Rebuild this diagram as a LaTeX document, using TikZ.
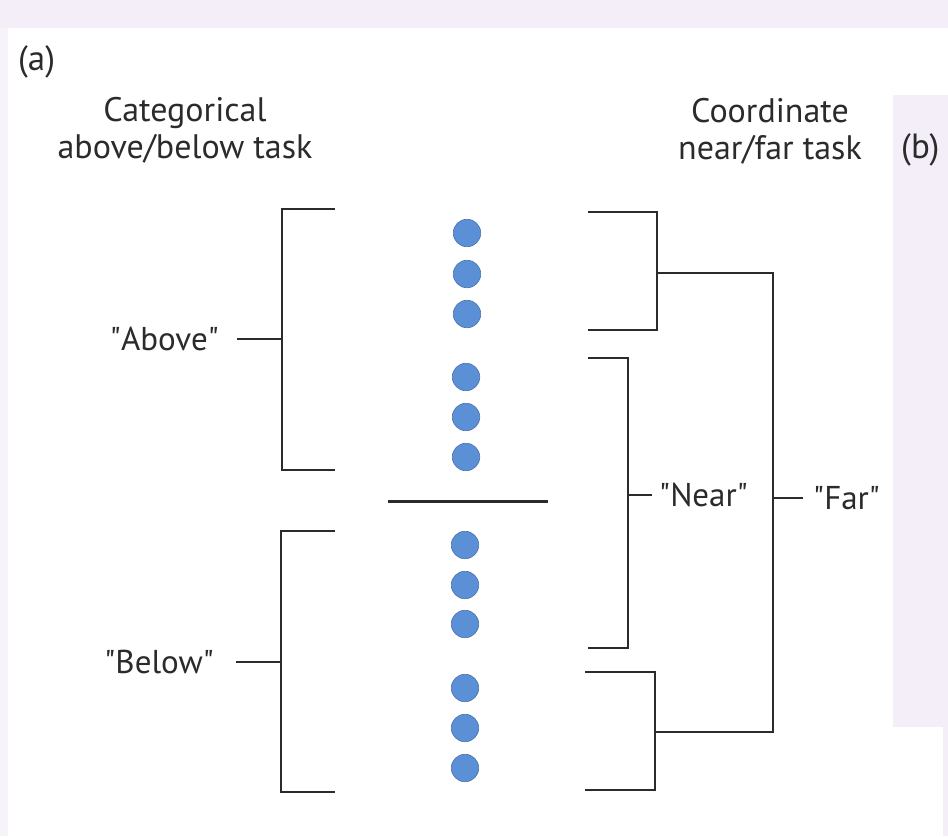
\documentclass[tikz,border=0pt]{standalone}
\usepackage{fontspec}
\setmainfont{PT Sans}
\definecolor{ink}{HTML}{2B2B2B}
\definecolor{lav}{HTML}{F4EEF8}
\definecolor{dotblue}{HTML}{5B8FD6}
\begin{document}
\begin{tikzpicture}[x=1pt,y=-1pt,
  bracket/.style={draw=ink,line width=2pt,line join=miter},
  dot/.style={circle,fill=dotblue,draw=dotblue!80!black,line width=0.6pt,minimum size=27.5pt,inner sep=0pt},
  head/.style={font=\fontsize{34}{37}\selectfont,text=ink,align=center,inner sep=0pt},
  lbl/.style={font=\fontsize{33}{38}\selectfont,text=ink,inner sep=0pt},
  panel/.style={font=\fontsize{35}{40}\selectfont,text=ink,inner sep=0pt}]
\useasboundingbox (0,0) rectangle (948,836);
\fill[white] (0,0) rectangle (948,836);
% paper margins
\fill[lav] (0,0) rectangle (948,28);
\fill[lav!70] (0,28) rectangle (8,836);
\fill[lav] (893,95) rectangle (948,727);
\fill[lav] (943,727) rectangle (948,836);

% panel letters and headings
\node[panel,anchor=west] (pa) at (18,62) {(a)};
\node[panel,anchor=west] (pb) at (901,150) {(b)};
\node[head] (hcat) at (185,130) {Categorical\\above/below task};
\node[head] (hcoo) at (770,131) {Coordinate\\near/far task};

% stimulus dots
\foreach \i/\x/\y in {1/467/233,2/467/274,3/467/314,4/466/377,5/466/417,6/466/457,
                      7/465/545,8/465/585,9/465/624,10/465/688,11/465/728,12/465/768}
  \node[dot] (d\i) at (\x,\y) {};

% reference bar
\coordinate (barL) at (388,501);
\coordinate (barR) at (548,501);
\draw[ink,line width=3pt] (barL) -- (barR);

% categorical brackets
\node[lbl,anchor=east] (above) at (219,339) {\textquotedbl Above\textquotedbl};
\node[lbl,anchor=east] (below) at (214,662) {\textquotedbl Below\textquotedbl};
\coordinate (aT) at (335,209); \coordinate (aB) at (335,470);
\coordinate (bT) at (335,531); \coordinate (bB) at (335,792);
\draw[bracket] (aT) -- (282,209) -- (282,470) -- (aB);
\draw[bracket] (282,339) -- ([xshift=18pt]above.east);
\draw[bracket] (bT) -- (281,531) -- (281,792) -- (bB);
\draw[bracket] (281,662) -- ([xshift=22pt]below.east);

% coordinate brackets
\node[lbl,anchor=west] (near) at (659,495) {\textquotedbl Near\textquotedbl};
\node[lbl,anchor=west] (far) at (813,498) {\textquotedbl Far\textquotedbl};
\coordinate (uT) at (588,212); \coordinate (uB) at (588,330);
\coordinate (nT) at (588,358); \coordinate (nB) at (588,648);
\coordinate (lT) at (585,672); \coordinate (lB) at (585,790);
\draw[bracket] (uT) -- (657,212) -- (657,330) -- (uB);
\draw[bracket] (nT) -- (628,358) -- (628,648) -- (nB);
\draw[bracket] (lT) -- (655,672) -- (655,790) -- (lB);
\draw[bracket] (628,495) -- ([xshift=-7pt]near.west);
\draw[bracket] (657,273) -- (773,273) -- (773,732) -- (655,732);
\draw[bracket] (773,498) -- ([xshift=-10pt]far.west);
\end{tikzpicture}
\end{document}
